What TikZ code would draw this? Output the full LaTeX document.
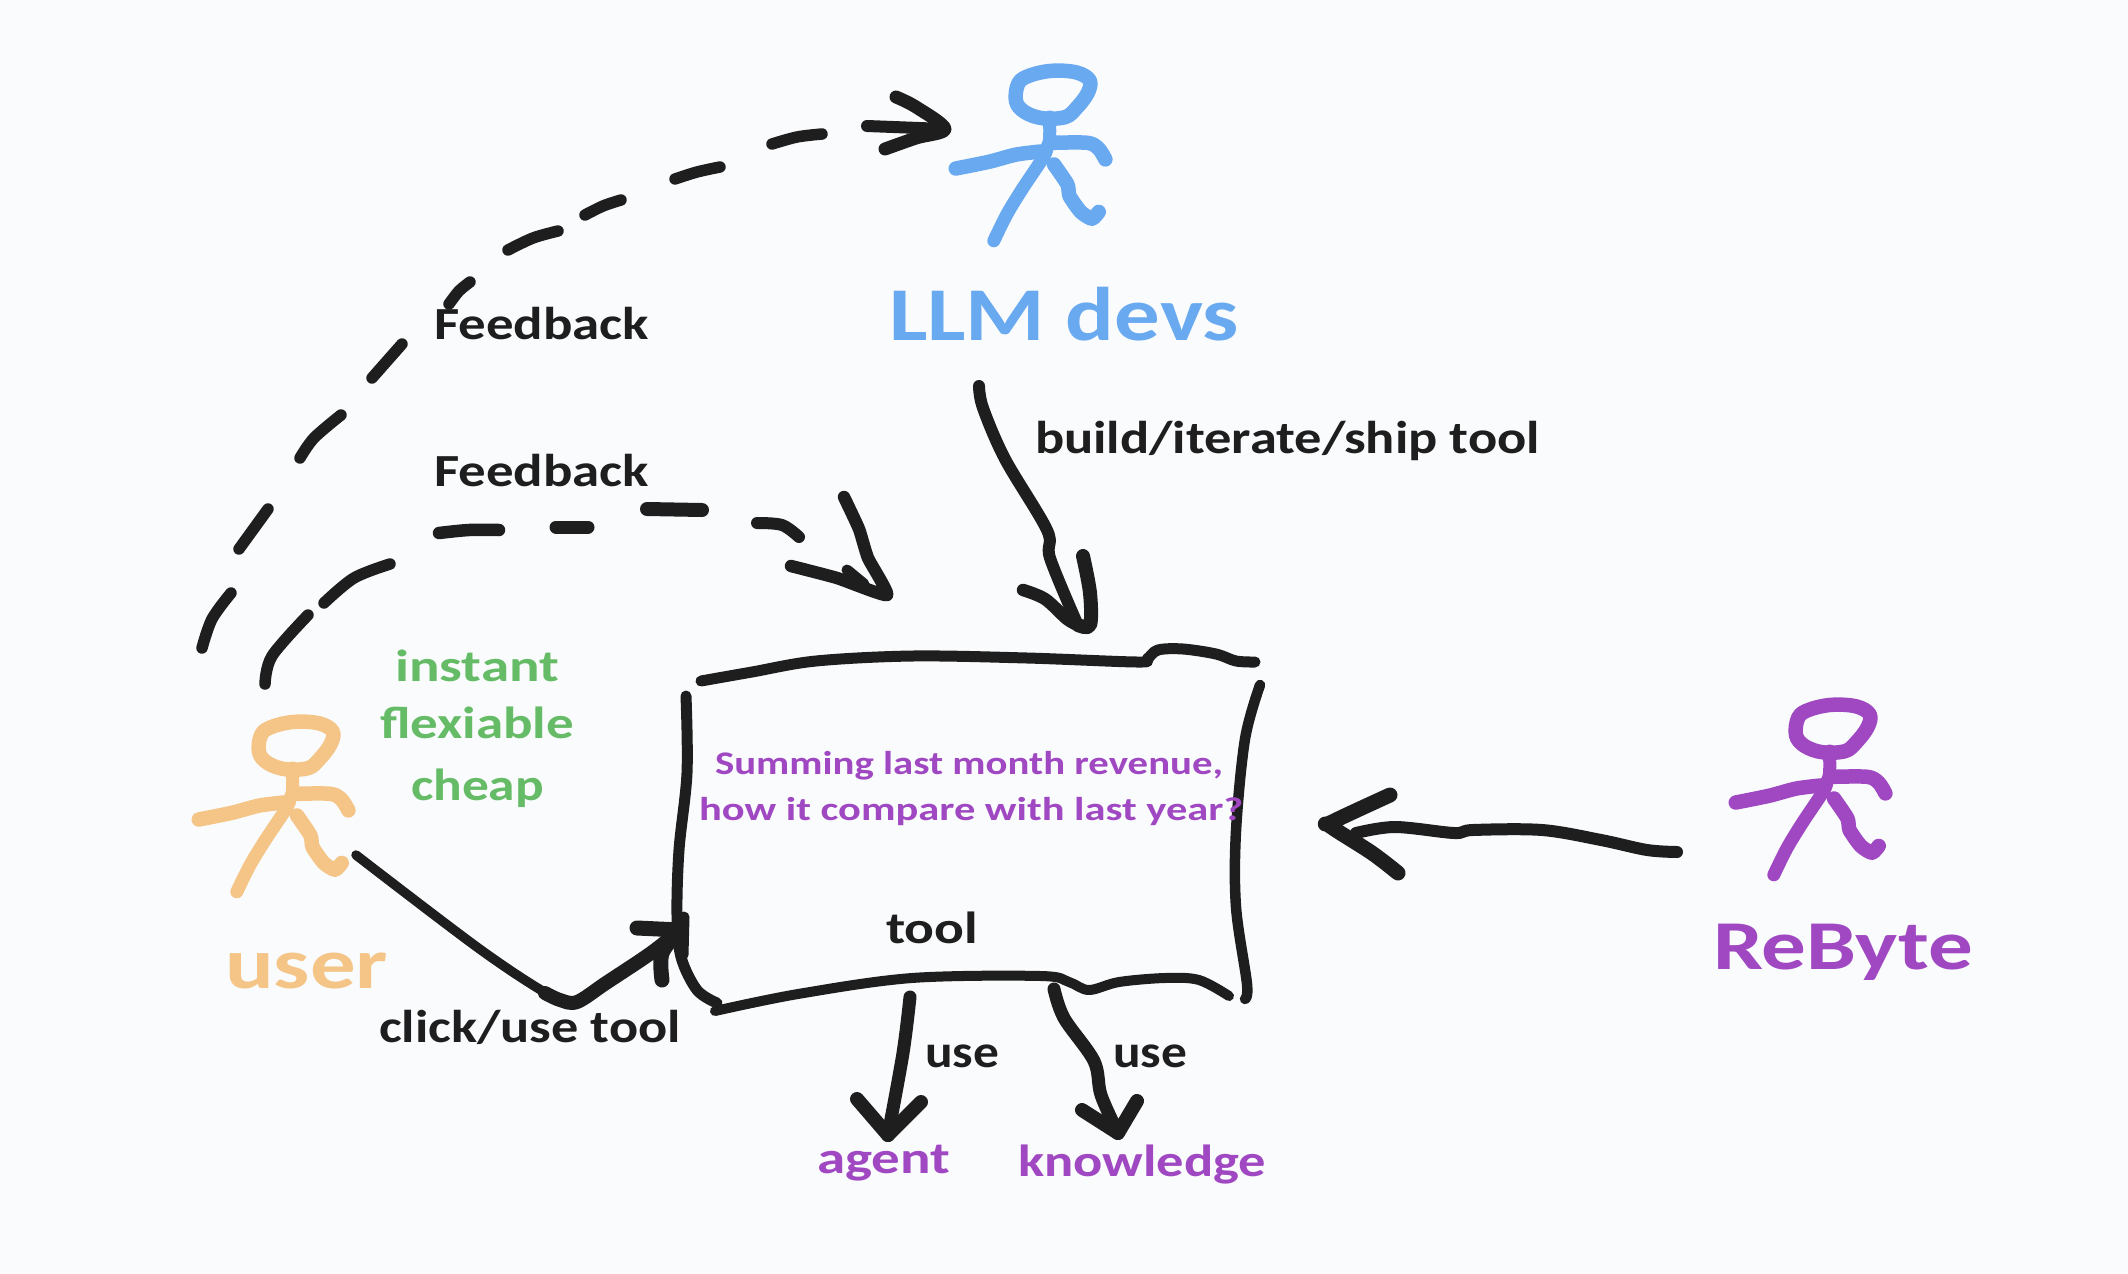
\documentclass[tikz,border=0pt]{standalone}
\usepackage{fontspec}
\usepackage{graphicx}
\setmainfont{Carlito}
\definecolor{bgc}{HTML}{F9FBFD}
\definecolor{ink}{HTML}{1E1E1E}
\definecolor{bluec}{HTML}{69A9F0}
\definecolor{orangec}{HTML}{F5C587}
\definecolor{purplec}{HTML}{A047C2}
\definecolor{greenc}{HTML}{66BC66}
\newcommand{\fitw}[3]{\fontsize{#2}{#2}\selectfont\bfseries\resizebox{#1pt}{\height}{#3}}
\tikzset{
  pen/.style={draw=ink,line width=#1,line cap=round,line join=round},
  pen/.default=10pt,
  lbl/.style={anchor=base west,inner sep=0pt,outer sep=0pt,text=#1},
  lbl/.default=ink,
  sm/.style={smooth,tension=0.55},
  figure/.pic={
    \begin{scope}[draw=#1,line width=14.5pt,line cap=round,line join=round]
    \draw plot[smooth cycle,tension=0.6] coordinates {(151.8,30.8)(176.3,32.4)(189.7,40.5)(187.5,53.4)(176.3,68.2)(165.2,77.1)(142.9,78.3)(125,72.2)(116,61.3)(118.3,43.5)(129.5,35.6)};
    \draw[line width=13pt] plot[smooth,tension=0.5] coordinates {(149.6,77)(149.6,98.8)(147.3,106.7)(143.8,116.6)(122.8,148.2)(107.1,173.9)(93.8,200.8)};
    \draw plot[smooth,tension=0.5] coordinates {(55.8,128.5)(89.3,121.7)(116,114.6)(140.6,111.5)};
    \draw plot[smooth,tension=0.5] coordinates {(154,102.8)(187.5,102.8)(198.7,108.7)(205.4,119.4)};
    \draw plot[smooth,tension=0.4] coordinates {(154,124.5)(167.4,144.3)(169.6,156.1)(180.8,171.9)(192,178.7)(198.7,171.9)};
    \end{scope}
  }
}
\begin{document}
\begin{tikzpicture}[x=1pt,y=-1pt]
\useasboundingbox (0,0) rectangle (2128,1274);
\fill[bgc] (0,0) rectangle (2128,1274);

% stick figures
\pic (devfig) at (900,40) {figure=bluec};
\pic (userfig) at (143,691) {figure=orangec};
\pic (rebytefig) at (1680,674) {figure=purplec};

% named ends of the connectors
\coordinate (outerStart) at (202,648);
\coordinate (outerTip) at (945,129);
\coordinate (innerStart) at (265,684);
\coordinate (innerTip) at (887,595);
\coordinate (buildStart) at (979,386);
\coordinate (buildTip) at (1078,625);
\coordinate (clickStart) at (356,855);
\coordinate (clickTip) at (680,930);
\coordinate (rebyteStart) at (1677,852);
\coordinate (rebyteTip) at (1330,826);
\coordinate (agentStart) at (910,997);
\coordinate (agentTip) at (888,1135);
\coordinate (knowStart) at (1054,989);
\coordinate (knowTip) at (1118,1133);

% tool box
\draw[pen=11pt] plot[sm] coordinates {(701,681)(752,672)(816,661)(913,656)(1027,658)(1137,662)(1147,659)(1158,650)(1183,649)(1216,654)(1236,661)(1255,662)};
\draw[pen=10.5pt] plot[sm] coordinates {(1260,685)(1245,739)(1236,831)(1236,907)(1247,984)(1245,999)};
\draw[pen=10pt] plot[sm] coordinates {(715,1011)(798,994)(912,978)(1041,976)(1069,982)(1089,990)(1119,982)(1165,978)(1199,980)(1229,996)};
\draw[pen=11pt] plot[sm] coordinates {(686,696)(687,773)(679,850)(677,915)(681,957)(697,990)(717,1003)};

% outer dashed feedback
\draw[pen=11.5pt] plot[sm] coordinates {(outerStart)(212,619)(231,593)};
\draw[pen=11.5pt] plot[sm] coordinates {(239,549)(268,509)};
\draw[pen=11.5pt] plot[sm] coordinates {(300,458)(314,438)(341,415)};
\draw[pen=11.5pt] plot[sm] coordinates {(372,378)(402,344)};
\draw[pen=11.5pt] plot[sm] coordinates {(449,304)(459,291)(470,282)};
\draw[pen=11.5pt] plot[sm] coordinates {(508,250)(533,238)(558,231)};
\draw[pen=11.5pt] plot[sm] coordinates {(585,215)(603,206)(621,200)};
\draw[pen=11.5pt] plot[sm] coordinates {(675,179)(697,172)(720,167)};
\draw[pen=11.5pt] plot[sm] coordinates {(772,144)(797,137)(822,134)};
\draw[pen=12pt] (867,126) -- (outerTip);
\draw[pen=13pt] plot[sm] coordinates {(896,97)(916,107)(outerTip)(916,138)(885,149)};

% inner dashed feedback
\draw[pen=11.5pt] plot[sm] coordinates {(innerStart)(272,656)(308,615)};
\draw[pen=11.5pt] plot[sm] coordinates {(324,603)(354,578)(390,564)};
\draw[pen=12.5pt] plot[sm] coordinates {(439,533)(469,530)(499,530)};
\draw[pen=13pt] (556,527) -- (588,527);
\draw[pen=14pt] (647,509) -- (702,510);
\draw[pen=12pt] plot[sm] coordinates {(757,523)(782,525)(799,537)};
\draw[pen=11pt] (847,570) -- (864,584);
\draw[pen=12.5pt] plot[smooth,tension=0.3] coordinates {(791,566)(837,578)(innerTip)(868,558)(859,529)(844,497)};

% build arrow
\draw[pen=12pt] plot[sm] coordinates {(buildStart)(983,408)(1005,459)(1047,530)(1050,558)(1076,621)};
\draw[pen=12.5pt] plot[sm] coordinates {(1023,590)(1045,599)(1067,619)(buildTip)};
\draw[pen=14pt] plot[sm] coordinates {(1083,556)(1090,593)(1090,625)(buildTip)};

% click arrow
\draw[pen=9.5pt] plot[sm] coordinates {(clickStart)(481,950)(553,997)(577,1002)(606,983)(651,953)(clickTip)};
\draw[pen=14pt] plot[sm] coordinates {(545,993)(560,1000)(577,1002)(606,983)(651,953)(clickTip)};
\draw[pen=15pt] (637,928) -- (clickTip);
\draw[pen=15pt] plot[sm] coordinates {(662,980)(662,953)(clickTip)};
\draw[pen=11pt] (684,917) -- (683,955);

% rebyte arrow
\draw[pen=12pt] plot[sm] coordinates {(rebyteStart)(1647,850)(1601,840)(1542,830)(1473,830)(1454,833)(1395,827)(1356,833)};
\draw[pen=15pt] plot[sm] coordinates {(1390,795)(1332,822)(rebyteTip)(1372,853)(1398,873)};

% agent arrow
\draw[pen=13pt] plot[sm] coordinates {(agentStart)(903,1053)(agentTip)};
\draw[pen=14pt] (857,1099) -- (agentTip);
\draw[pen=14pt] (921,1102) -- (agentTip);

% knowledge arrow
\draw[pen=13pt] plot[sm] coordinates {(knowStart)(1064,1018)(1094,1061)(1101,1095)(knowTip)};
\draw[pen=14pt] (1082,1110) -- (knowTip);
\draw[pen=14pt] (1137,1101) -- (knowTip);

% labels
\node[lbl=bluec] (llm) at (889,340) {\fitw{350}{76}{LLM devs}};
\node[lbl] (build) at (1035,453) {\fitw{505}{46}{build/iterate/ship tool}};
\node[lbl] (fb1) at (434,339) {\fitw{215}{46}{Feedback}};
\node[lbl] (fb2) at (434,486) {\fitw{215}{46}{Feedback}};
\node[lbl=greenc] (instant) at (395,681) {\fitw{164}{45}{instant}};
\node[lbl=greenc] (flex) at (380,738) {\fitw{194}{45}{flexiable}};
\node[lbl=greenc] (cheap) at (411,800) {\fitw{133}{45}{cheap}};
\node[lbl=orangec] (user) at (225,988) {\fitw{163}{72}{user}};
\node[lbl] (click) at (379,1042) {\fitw{302}{46}{click/use tool}};
\node[lbl=purplec] (sum1) at (715,774) {\fitw{508}{33}{Summing last month revenue,}};
\node[lbl=purplec] (sum2) at (699,820) {\fitw{544}{33}{how it compare with last year?}};
\node[lbl] (tool) at (886,943) {\fitw{92}{45}{tool}};
\node[lbl] (use1) at (925,1067) {\fitw{74}{46}{use}};
\node[lbl] (use2) at (1113,1067) {\fitw{74}{46}{use}};
\node[lbl=purplec] (agent) at (817,1173) {\fitw{133}{45}{agent}};
\node[lbl=purplec] (know) at (1018,1176) {\fitw{248}{45}{knowledge}};
\node[lbl=purplec] (rebyte) at (1713,969) {\fitw{260}{70}{ReByte}};
\end{tikzpicture}
\end{document}
